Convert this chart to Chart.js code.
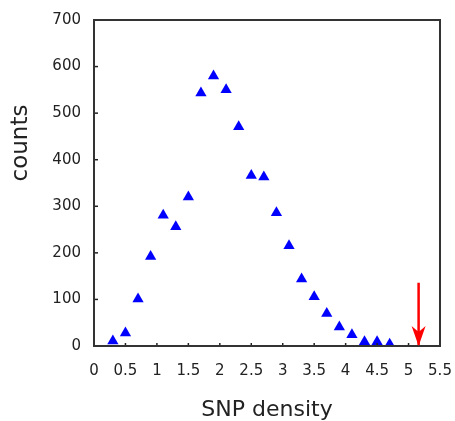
<!DOCTYPE html>
<html>
<head>
<meta charset="utf-8">
<script src="https://cdn.jsdelivr.net/npm/chart.js@4/dist/chart.umd.min.js"></script>
<style>
  html, body { margin: 0; padding: 0; background: #fff; }
  #wrap { width: 455px; height: 421px; }
</style>
</head>
<body>
<div id="wrap"><canvas id="snpChart"></canvas></div>
<script>
// SNP density histogram values
const snp_density = [0.3, 0.5, 0.7, 0.9, 1.1, 1.3, 1.5, 1.7, 1.9, 2.1, 2.3, 2.5, 2.7, 2.9, 3.1, 3.3, 3.5, 3.7, 3.9, 4.1, 4.3, 4.5, 4.7];
const counts = [11, 28, 101, 192, 281, 256, 320, 543, 580, 550, 471, 366, 363, 286, 215, 144, 106, 70, 41, 24, 9, 9, 4];

// red arrow marking the outlier
const arrow_x = [5.16, 5.16];
const arrow_y = [136, 0];

const x_ticks = { min: 0, max: 5.5, step: 0.5 };
const y_ticks = { min: 0, max: 700, step: 100 };

const font_family = '"DejaVu Sans", "Liberation Sans", sans-serif';

const frameAndArrow = {
    id: 'frameAndArrow',
    afterDatasetsDraw(chart) {
        const { ctx, chartArea: area, scales } = chart;
        ctx.save();

        // inward tick marks
        ctx.strokeStyle = '#222';
        ctx.lineWidth = 1.5;
        scales.y.ticks.forEach(t => {
            const py = scales.y.getPixelForValue(t.value);
            ctx.beginPath();
            ctx.moveTo(area.left, py);
            ctx.lineTo(area.left + 4, py);
            ctx.stroke();
        });
        scales.x.ticks.forEach(t => {
            const px = scales.x.getPixelForValue(t.value);
            ctx.beginPath();
            ctx.moveTo(px, area.bottom);
            ctx.lineTo(px, area.bottom - 3);
            ctx.stroke();
        });

        // plot box
        ctx.strokeStyle = '#333';
        ctx.lineWidth = 2;
        ctx.strokeRect(area.left, area.top, area.right - area.left, area.bottom - area.top);

        // arrow head at the end of the arrow dataset
        const tip = chart.getDatasetMeta(1).data[1];
        ctx.fillStyle = '#ff0000';
        ctx.beginPath();
        ctx.moveTo(tip.x, tip.y);
        ctx.lineTo(tip.x - 7, tip.y - 20);
        ctx.lineTo(tip.x, tip.y - 14);
        ctx.lineTo(tip.x + 7, tip.y - 20);
        ctx.closePath();
        ctx.fill();

        // y axis title
        ctx.fillStyle = '#222';
        ctx.font = '23px ' + font_family;
        ctx.textAlign = 'center';
        ctx.textBaseline = 'middle';
        ctx.translate(21, 143);
        ctx.rotate(-Math.PI / 2);
        ctx.fillText('counts', 0, 0);
        ctx.restore();
    }
};

const ctx = document.getElementById('snpChart').getContext('2d');
new Chart(ctx, {
    type: 'scatter',
    data: {
        datasets: [{
            label: 'counts',
            data: snp_density.map((x, i) => ({ x: x, y: counts[i] })),
            pointStyle: 'triangle',
            pointRadius: 6.5,
            pointHoverRadius: 6.5,
            backgroundColor: '#0000ff',
            borderColor: '#0000ff',
            borderWidth: 0
        }, {
            label: 'arrow',
            type: 'line',
            data: arrow_x.map((x, i) => ({ x: x, y: arrow_y[i] })),
            borderColor: '#ff0000',
            borderWidth: 2.5,
            pointRadius: 0,
            fill: false
        }]
    },
    options: {
        responsive: true,
        maintainAspectRatio: false,
        animation: false,
        layout: { padding: { top: 20, right: 15, left: 0, bottom: 0 } },
        plugins: {
            legend: { display: false },
            tooltip: { enabled: false }
        },
        scales: {
            x: {
                type: 'linear',
                min: x_ticks.min,
                max: x_ticks.max,
                grid: { drawOnChartArea: false, drawTicks: false },
                border: { display: false },
                ticks: {
                    stepSize: x_ticks.step,
                    padding: 16,
                    color: '#222',
                    font: { family: font_family, size: 15 },
                    callback: v => String(v)
                },
                title: {
                    display: true,
                    text: 'SNP density',
                    color: '#222',
                    font: { family: font_family, size: 22, lineHeight: 1 },
                    padding: { top: 0, bottom: 0 }
                },
                afterFit(scale) {
                    scale.height = 75;
                    scale.paddingLeft = 0;
                    scale.paddingRight = 0;
                }
            },
            y: {
                min: y_ticks.min,
                max: y_ticks.max,
                grid: { drawOnChartArea: false, drawTicks: false },
                border: { display: false },
                ticks: {
                    stepSize: y_ticks.step,
                    padding: 13,
                    color: '#222',
                    font: { family: font_family, size: 15 }
                },
                afterFit(scale) {
                    scale.width = 94;
                    scale.paddingTop = 0;
                    scale.paddingBottom = 0;
                }
            }
        }
    },
    plugins: [frameAndArrow]
});
</script>
</body>
</html>
